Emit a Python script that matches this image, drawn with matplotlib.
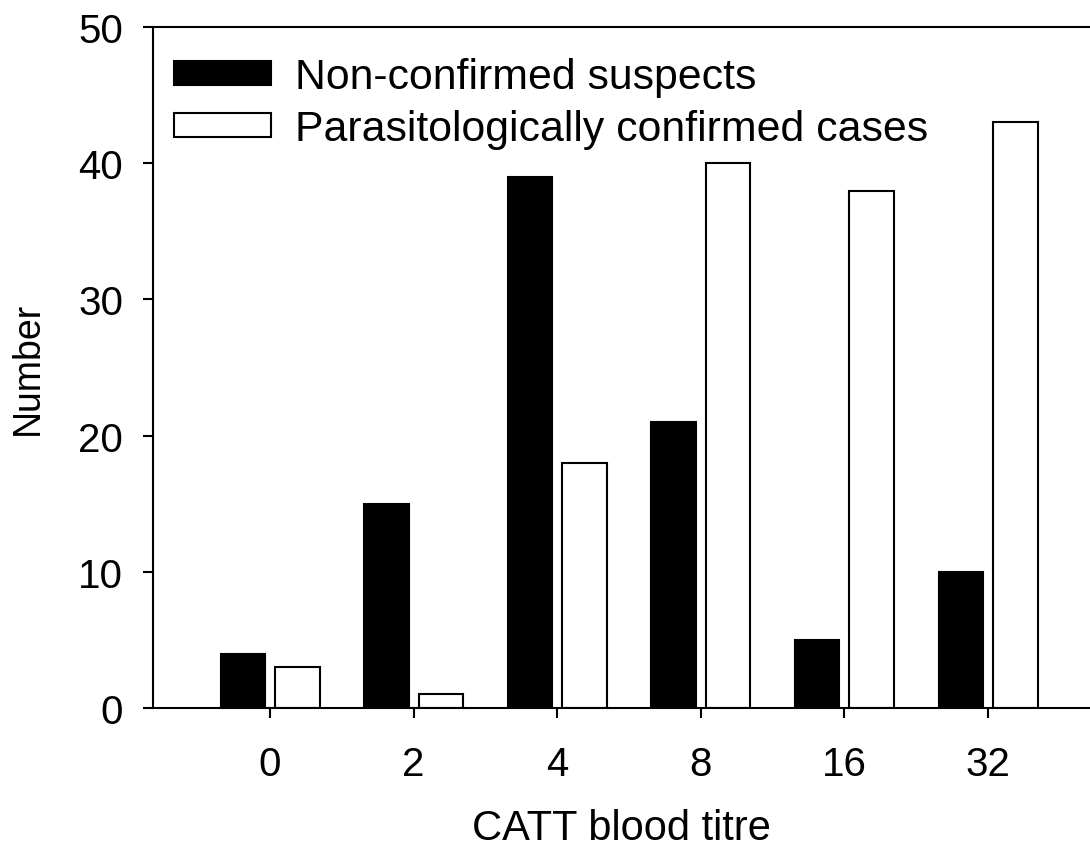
import matplotlib
matplotlib.use("Agg")
import matplotlib.pyplot as plt
import numpy as np

categories = ["0", "2", "4", "8", "16", "32"]
non_confirmed = [4, 15, 39, 21, 5, 10]
confirmed = [3, 1, 18, 40, 38, 43]

plt.rcParams['font.family'] = ['Liberation Sans', 'DejaVu Sans']

fig = plt.figure(figsize=(10.9, 8.53), dpi=100)
ax = fig.add_axes([0.1404, 0.1688, 0.8596, 0.7982])

x = np.arange(len(categories))
w = 0.31
off = 0.19
ax.bar(x - off, non_confirmed, w, color='black', edgecolor='black', linewidth=1.5,
       label='Non-confirmed suspects')
ax.bar(x + off, confirmed, w, color='white', edgecolor='black', linewidth=1.5,
       label='Parasitologically confirmed cases')

ax.set_xlim(-0.815, 5.71)
ax.set_ylim(0, 50)
ax.set_yticks(range(0, 51, 10))
ax.set_xticks(x)
ax.set_xticklabels(categories)
ax.tick_params(axis='both', direction='out', length=7.5, width=1.5, labelsize=29)
ax.tick_params(axis='x', pad=19)
ax.tick_params(axis='y', pad=14)
for s in ['left', 'top', 'bottom']:
    ax.spines[s].set_linewidth(1.5)
ax.spines['right'].set_visible(False)

ax.set_xlabel('CATT blood titre', fontsize=30, labelpad=18)
ax.set_ylabel('Number', fontsize=27, labelpad=23)

leg = ax.legend(loc='upper left', bbox_to_anchor=(0.0, 0.986), frameon=False,
                fontsize=30.8, handlelength=2.27, handleheight=0.5,
                handletextpad=0.58, labelspacing=0.28, borderaxespad=0.08)

fig.savefig('out.png', dpi=100)
